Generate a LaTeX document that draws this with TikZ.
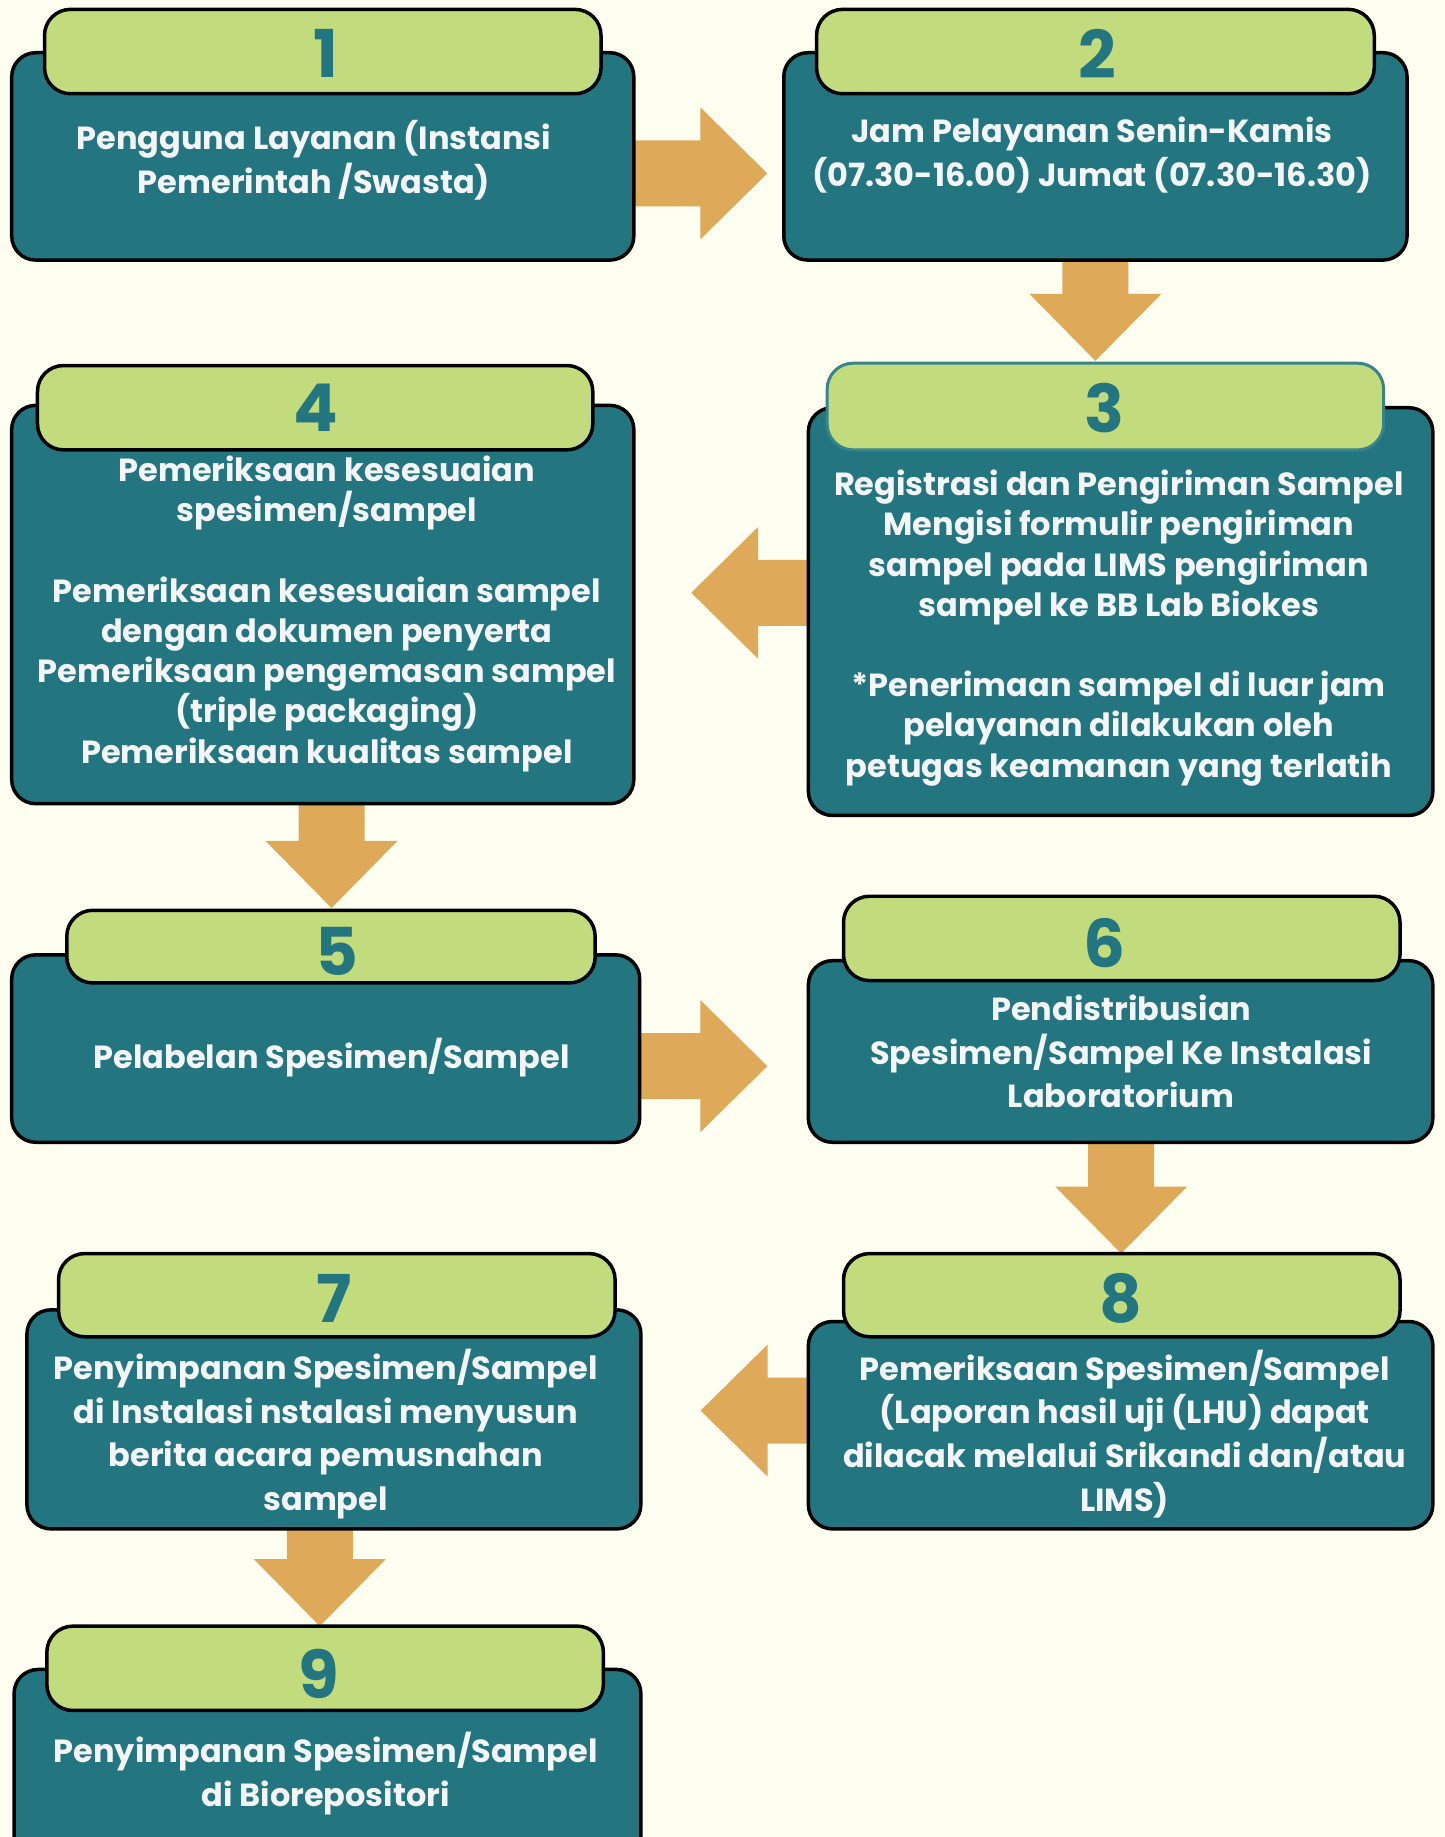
\documentclass[tikz,border=0pt]{standalone}
\usepackage{fontspec}
\setmainfont{Poppins}
\usetikzlibrary{fit,calc}
\definecolor{bgc}{HTML}{FEFEF1}
\definecolor{tealc}{HTML}{23767F}
\definecolor{greenc}{HTML}{C2DB7D}
\definecolor{orangec}{HTML}{DFA95A}
\definecolor{txtc}{HTML}{F4F5F8}
\newcommand\blockarrow[2]{%
  \coordinate (hb) at ($(#2)!67pt!(#1)$);
  \fill[orangec] ($(#1)!33pt!90:(#2)$) -- ($(hb)!33pt!-90:(#1)$) -- ($(hb)!66pt!-90:(#1)$) -- (#2)
    -- ($(hb)!66pt!90:(#1)$) -- ($(hb)!33pt!90:(#1)$) -- ($(#1)!33pt!-90:(#2)$) -- cycle;
}
\begin{document}
\begin{tikzpicture}[x=1.1719pt,y=-1.1719pt,
  tealbox/.style={draw=black, line width=3.5pt, fill=tealc, rounded corners=24pt, inner sep=0pt},
  tabbox/.style={draw=black, line width=3.5pt, fill=greenc, rounded corners=26pt, inner sep=0pt},
  num/.style={font=\fontsize{66}{66}\selectfont\bfseries, text=tealc, inner sep=0pt},
  bodyA/.style={font=\fontsize{32}{40.2}\selectfont\bfseries, text=txtc, align=center, inner sep=0pt},
  bodyB/.style={font=\fontsize{32}{43.8}\selectfont\bfseries, text=txtc, align=center, inner sep=0pt}
]
\useasboundingbox (0,0) rectangle (1233,1568);
\fill[bgc] (0,0) rectangle (1233,1568);
\begin{scope}
\clip (0,0) rectangle (1233,1568);
% coordinates for arrows
\coordinate (s12) at (541,148);   \coordinate (e12) at (655,148);
\coordinate (s23) at (935,222);   \coordinate (e23) at (935,308);
\coordinate (s34) at (690,506);   \coordinate (e34) at (590,506);
\coordinate (s45) at (283,686);   \coordinate (e45) at (283,775);
\coordinate (s56) at (546,910);   \coordinate (e56) at (655,910);
\coordinate (s68) at (957,975);   \coordinate (e68) at (957,1070);
\coordinate (s87) at (690,1204);  \coordinate (e87) at (598,1204);
\coordinate (s79) at (273,1305);  \coordinate (e79) at (273,1388);
\blockarrow{s12}{e12}
\blockarrow{s23}{e23}
\blockarrow{s34}{e34}
\blockarrow{s45}{e45}
\blockarrow{s56}{e56}
\blockarrow{s68}{e68}
\blockarrow{s87}{e87}
\blockarrow{s79}{e79}
% boxes
\node[tealbox, fit={(10,45) (541,222)}] (b1) {};
\node[tabbox, fit={(38,8) (513,80)}] (t1) {};
\node[tealbox, fit={(669,45) (1201,222)}] (b2) {};
\node[tabbox, fit={(697,8) (1173,80)}] (t2) {};
\node[tealbox, fit={(690,348) (1223,696)}] (b3) {};
\node[tabbox, draw=tealc!90!white, line width=3pt, fit={(706,310) (1181,384)}] (t3) {};
\node[tealbox, fit={(10,346) (541,686)}] (b4) {};
\node[tabbox, fit={(32,312) (506,384)}] (t4) {};
\node[tealbox, fit={(10,815) (546,975)}] (b5) {};
\node[tabbox, fit={(57,777) (508,839)}] (t5) {};
\node[tealbox, fit={(690,820) (1223,975)}] (b6) {};
\node[tabbox, fit={(720,765) (1195,837)}] (t6) {};
\node[tealbox, fit={(690,1128) (1223,1305)}] (b8) {};
\node[tabbox, fit={(720,1070) (1195,1141)}] (t8) {};
\node[tealbox, fit={(23,1118) (547,1305)}] (b7) {};
\node[tabbox, fit={(50,1070) (525,1141)}] (t7) {};
\node[tealbox, fit={(12,1425) (547,1620)}] (b9) {};
\node[tabbox, fit={(40,1388) (515,1460)}] (t9) {};
% numbers
\node[num] (n1) at (278,46) {1};
\node[num] (n2) at (937,46) {2};
\node[num] (n3) at (943,348) {3};
\node[num] (n4) at (270,348) {4};
\node[num] (n5) at (288,812) {5};
\node[num] (n6) at (943,805) {6};
\node[num] (n7) at (285,1108) {7};
\node[num] (n8) at (957,1108) {8};
\node[num] (n9) at (272,1429) {9};
% texts
\node[bodyB] (l1) at (268,136.5) {Pengguna Layanan (Instansi\\Pemerintah /Swasta)};
\node[bodyB] (l2) at (932,132.5) {Jam Pelayanan Senin-Kamis\\(07.30-16.00) Jumat (07.30-16.30)};
\node[bodyA] (l3) at (955,536) {Registrasi dan Pengiriman Sampel\\Mengisi formulir pengiriman\\sampel pada LIMS pengiriman\\sampel ke BB Lab Biokes\\[40.2pt]*Penerimaan sampel di luar jam\\pelayanan dilakukan oleh\\petugas keamanan yang terlatih};
\node[bodyA] (l4) at (279,524) {Pemeriksaan kesesuaian\\spesimen/sampel\\[40.2pt]Pemeriksaan kesesuaian sampel\\dengan dokumen penyerta\\Pemeriksaan pengemasan sampel\\(triple packaging)\\Pemeriksaan kualitas sampel};
\node[bodyB] (l5) at (283,903) {Pelabelan Spesimen/Sampel};
\node[bodyB] (l6) at (957,897.5) {Pendistribusian\\Spesimen/Sampel Ke Instalasi\\Laboratorium};
\node[bodyB] (l7) at (278,1224) {Penyimpanan Spesimen/Sampel\\di Instalasi nstalasi menyusun\\berita acara pemusnahan\\sampel};
\node[bodyB] (l8) at (960,1224) {Pemeriksaan Spesimen/Sampel\\(Laporan hasil uji (LHU) dapat\\dilacak melalui Srikandi dan/atau\\LIMS)};
\node[bodyB] (l9) at (278,1513.5) {Penyimpanan Spesimen/Sampel\\di Biorepositori};
\end{scope}
\end{tikzpicture}
\end{document}
